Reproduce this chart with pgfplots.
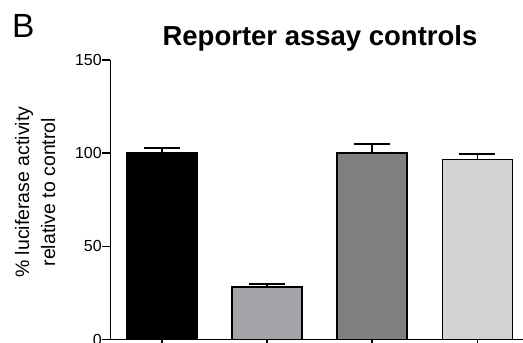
\documentclass[border=0pt]{standalone}
\usepackage{pgfplots}
\pgfplotsset{compat=1.18}
\usepackage{fontspec}
\setmainfont{Liberation Sans}
\definecolor{barA}{RGB}{0,0,0}
\definecolor{barB}{RGB}{163,163,168}
\definecolor{barC}{RGB}{128,128,128}
\definecolor{barD}{RGB}{211,211,211}
\begin{document}
\begin{tikzpicture}
\begin{axis}[
  at={(0,0)}, anchor=south west,
  scale only axis,
  width=412pt, height=279.5pt,
  xmin=-0.49, xmax=3.43,
  ymin=0, ymax=150,
  axis lines*=left,
  axis line style={line width=1.5pt},
  ybar, bar width=70pt,
  xtick={0,1,2,3}, xticklabels={},
  ytick={0,50,100,150},
  tick align=outside,
  major tick length=8pt,
  tick style={line width=1.5pt, black},
  yticklabel style={inner sep=0.5pt, font=\fontsize{16}{18}\selectfont},
  /pgf/number format/assume math mode=true,
  ylabel={\% luciferase activity\\relative to control},
  ylabel style={at={(axis description cs:-0.183,0.527)}, anchor=center, align=center, font=\fontsize{19.5}{26}\selectfont},
  clip=false,
  error bars/y dir=plus, error bars/y explicit,
  error bars/error bar style={line width=1.5pt, black},
  error bars/error mark options={rotate=90, mark size=18pt, line width=1.5pt, black},
]
\addplot[bar shift=0pt, fill=barA, draw=black, line width=1.5pt] coordinates {(0,100) +- (0,2.7)};
\addplot[bar shift=0pt, fill=barB, draw=black, line width=1.5pt] coordinates {(1,28.1) +- (0,1.6)};
\addplot[bar shift=0pt, fill=barC, draw=black, line width=1.5pt] coordinates {(2,100) +- (0,5)};
\addplot[bar shift=0pt, fill=barD, draw=black, line width=1.5pt] coordinates {(3,96.6) +- (0,2.9)};
\end{axis}
\node[anchor=base, font=\fontsize{27.5}{32}\selectfont\bfseries] at (209.5pt,293.5pt) {Reporter assay controls};
\node[anchor=base west, inner sep=0pt, font=\fontsize{33.5}{38}\selectfont] at (-98.5pt,302pt) {B};
\pgfresetboundingbox
\path[use as bounding box] (-110.5pt,-3.5pt) rectangle (412.5pt,339.5pt);
\end{tikzpicture}
\end{document}
